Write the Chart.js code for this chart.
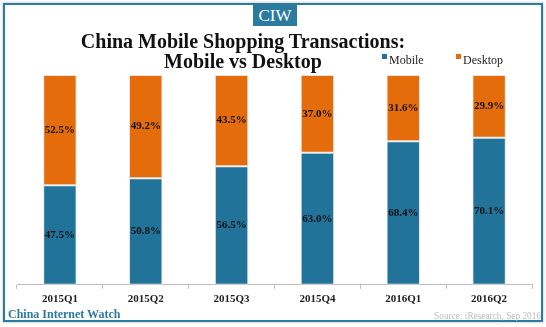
<!DOCTYPE html>
<html>
<head>
<meta charset="utf-8">
<script src="https://cdn.jsdelivr.net/npm/chart.js@4"></script>
<style>
  body { margin: 0; background: #fff; }
  #wrap { position: relative; width: 546px; height: 327px; overflow: hidden; font-family: "Liberation Serif", serif; }
  #frame { position: absolute; left: 3px; top: 3px; width: 536px; height: 315px; border: 2px solid #2b7ba0; box-shadow: 0 0 2px 1px #d8d8d8; }
  #chart { position: absolute; left: 0; top: 0; }
  #badge { position: absolute; left: 253px; top: 4px; width: 44px; height: 22px; background: #2b7ba0; color: #fff; font-size: 17px; text-align: center; line-height: 23px; }
  #title { position: absolute; left: 43px; width: 400px; top: 31px; text-align: center; font-weight: bold; font-size: 20px; line-height: 20px; color: #111; }
  #legend { position: absolute; top: 53px; left: 382px; font-size: 12px; color: #222; }
  #legend span { position: absolute; white-space: nowrap; }
  #legend i { display: inline-block; width: 5px; height: 5px; margin-right: 2px; vertical-align: 5px; }
  #brand { position: absolute; left: 8px; top: 307px; font-size: 12px; font-weight: bold; color: #2b7ba0; }
  #source { position: absolute; right: 5px; top: 311px; font-size: 9.3px; color: #bbb; }
</style>
</head>
<body>
<div id="wrap">
  <div id="frame"></div>
  <canvas id="chart" width="546" height="327"></canvas>
  <div id="badge">CIW</div>
  <div id="title">China Mobile Shopping Transactions:<br>Mobile vs Desktop</div>
  <div id="legend"></div>
  <div id="brand">China Internet Watch</div>
  <div id="source">Source: iResearch, Sep 2016</div>
</div>
<script>
const quarters = ['2015Q1', '2015Q2', '2015Q3', '2015Q4', '2016Q1', '2016Q2'];
const mobileShare = [47.5, 50.8, 56.5, 63.0, 68.4, 70.1];
const desktopShare = [52.5, 49.2, 43.5, 37.0, 31.6, 29.9];

const blue = '#21739a';
const orange = '#e46c0a';

// writes the percentage in the middle of each stacked segment
const segmentLabels = {
  id: 'segmentLabels',
  afterDatasetsDraw(chart) {
    const ctx = chart.ctx;
    ctx.save();
    ctx.font = 'bold 11px "Liberation Serif", serif';
    ctx.fillStyle = '#111';
    ctx.textAlign = 'center';
    ctx.textBaseline = 'middle';
    chart.data.datasets.forEach((ds, i) => {
      chart.getDatasetMeta(i).data.forEach((bar, j) => {
        const mid = (bar.y + bar.base) / 2;
        ctx.fillText(ds.data[j].toFixed(1) + '%', bar.x, mid);
      });
    });
    ctx.restore();
  }
};

const chart = new Chart(document.getElementById('chart'), {
  type: 'bar',
  data: {
    labels: quarters,
    datasets: [
      { label: 'Mobile', data: mobileShare, backgroundColor: blue },
      { label: 'Desktop', data: desktopShare, backgroundColor: orange }
    ]
  },
  options: {
    responsive: false,
    animation: false,
    layout: { padding: { left: 17, right: 14, top: 75, bottom: 17 } },
    datasets: {
      bar: { categoryPercentage: 1, barPercentage: 0.39, borderColor: '#e2e2e2', borderWidth: 1, borderSkipped: false }
    },
    plugins: { legend: { display: false }, tooltip: { enabled: false } },
    scales: {
      x: {
        stacked: true,
        border: { color: '#bdbdbd', width: 1 },
        grid: { offset: true, drawOnChartArea: false, tickLength: 4, color: '#bdbdbd' },
        ticks: { color: '#222', padding: 4, font: { family: '"Liberation Serif", serif', size: 11, weight: 'bold' } }
      },
      y: { stacked: true, display: false, min: 0, max: 100 }
    }
  },
  plugins: [segmentLabels]
});

// small square legend on the right of the title
const legend = document.getElementById('legend');
chart.data.datasets.forEach((ds, i) => {
  const item = document.createElement('span');
  item.style.left = (i * 74) + 'px';
  item.innerHTML = '<i style="background:' + ds.backgroundColor + '"></i>' + ds.label;
  legend.appendChild(item);
});
</script>
</body>
</html>
